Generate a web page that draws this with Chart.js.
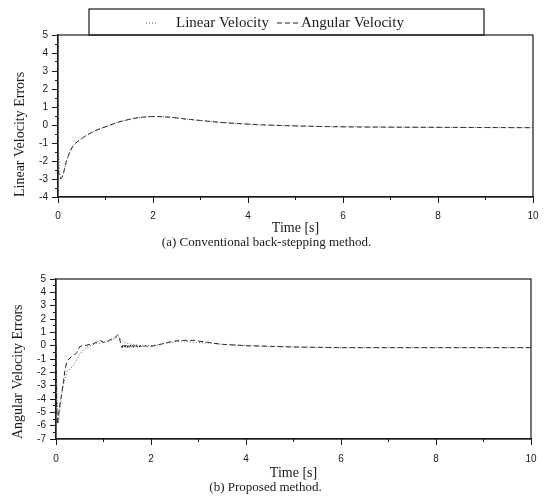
<!DOCTYPE html>
<html>
<head>
<meta charset="utf-8">
<script src="https://cdn.jsdelivr.net/npm/chart.js@4"></script>
<style>
  html, body { margin: 0; padding: 0; background: #fff; }
  .box { position: absolute; left: 0; width: 547px; height: 252px; }
</style>
</head>
<body>
<div class="box" style="top:0"><canvas id="chartA"></canvas></div>
<div class="box" style="top:252px"><canvas id="chartB"></canvas></div>
<script>
// series labels
const seriesNames = ['Linear Velocity', 'Angular Velocity'];

// (a) conventional back-stepping
const topTime    = [0, 0.03, 0.06, 0.1, 0.18, 0.25, 0.32, 0.4, 0.53, 0.65, 0.8, 1.0, 1.15, 1.3, 1.45, 1.6, 1.8, 2.0, 2.2, 2.4, 2.7, 3.0, 3.4, 3.8, 4.2, 4.6, 5.0, 5.5, 6, 7, 8, 9, 10];
const topLinear  = [-0.7, -2.4, -3.0, -2.8, -2.0, -1.5, -1.15, -0.95, -0.7, -0.5, -0.3, -0.1, 0.05, 0.18, 0.28, 0.37, 0.44, 0.47, 0.46, 0.42, 0.33, 0.25, 0.15, 0.08, 0.02, -0.02, -0.05, -0.08, -0.1, -0.12, -0.13, -0.14, -0.15];
const topAngular = [-2.5, -2.8, -3.0, -2.8, -2.0, -1.5, -1.15, -0.95, -0.7, -0.5, -0.3, -0.1, 0.05, 0.18, 0.28, 0.37, 0.44, 0.47, 0.46, 0.42, 0.33, 0.25, 0.15, 0.08, 0.02, -0.02, -0.05, -0.08, -0.1, -0.12, -0.13, -0.14, -0.15];

// (b) proposed method
const botLinTime = [0, 0.02, 0.05, 0.08, 0.12, 0.15, 0.19, 0.23, 0.3, 0.37, 0.44, 0.51, 0.58, 0.65, 0.72, 0.85, 1.0, 1.15, 1.3, 1.35, 1.45, 1.6, 1.8, 2.0, 2.2, 2.5, 2.7, 2.9, 3.2, 3.5, 4.0, 4.5, 5, 6, 7, 8, 9, 10];
const botLinear  = [0, -3.5, -5.8, -4.8, -3.8, -3.0, -2.5, -2.0, -1.7, -1.5, -1.0, -0.6, -0.3, -0.1, 0.0, 0.15, 0.25, 0.35, 0.7, 0.55, 0.2, 0.1, 0.0, 0.0, 0.1, 0.3, 0.35, 0.25, 0.2, 0.1, 0.0, -0.05, -0.1, -0.15, -0.15, -0.15, -0.15, -0.15];
const botAngTime = [0, 0.01, 0.03, 0.06, 0.09, 0.12, 0.16, 0.19, 0.23, 0.27, 0.32, 0.37, 0.44, 0.5, 0.6, 0.72, 0.82, 0.93, 1.0, 1.07, 1.14, 1.22, 1.3, 1.33,
                    1.37, 1.39, 1.41, 1.43, 1.45, 1.47, 1.49, 1.51, 1.53, 1.55, 1.57, 1.59, 1.61, 1.63, 1.65, 1.67, 1.69, 1.71, 1.73, 1.75, 1.77, 1.79, 1.81, 1.84, 1.88, 1.93,
                    2.0, 2.15, 2.3, 2.5, 2.7, 2.9, 3.2, 3.5, 4.0, 4.5, 5, 6, 7, 8, 9, 10];
const botAngular = [0, -4.3, -5.9, -5.0, -4.2, -3.6, -2.6, -1.8, -1.2, -1.0, -0.85, -0.75, -0.5, -0.05, 0.0, 0.1, 0.2, 0.4, 0.25, 0.3, 0.45, 0.55, 0.8, 0.7,
                    0.0, -0.15, 0.05, -0.15, 0.05, -0.15, 0.05, -0.14, 0.05, -0.14, 0.05, -0.13, 0.04, -0.13, 0.04, -0.12, 0.04, -0.12, 0.03, -0.11, 0.03, -0.1, 0.02, -0.08, 0.0, -0.07,
                    -0.05, 0.05, 0.2, 0.35, 0.4, 0.4, 0.25, 0.1, 0.0, -0.05, -0.1, -0.15, -0.15, -0.15, -0.15, -0.15];

// axis ticks
const xTicks = [0, 2, 4, 6, 8, 10];
const topYRange = [-4, 5];
const botYRange = [-7, 5];

const ink = '#1a1a1a';
const tickFont = { family: 'Liberation Sans', size: 10 };
const serif = 'Liberation Serif';

function pts(xs, ys) {
  return xs.map((x, i) => ({ x: x, y: ys[i] }));
}

// box around the plot area
const framePlugin = {
  id: 'frame',
  afterDraw(chart) {
    const a = chart.chartArea, ctx = chart.ctx;
    ctx.save();
    ctx.strokeStyle = ink;
    ctx.lineWidth = 1.2;
    ctx.strokeRect(a.left, a.top, a.right - a.left, a.bottom - a.top);
    ctx.restore();
  }
};

// boxed legend sitting on top of the first plot
const boxLegend = {
  id: 'boxLegend',
  afterDraw(chart) {
    const ctx = chart.ctx, a = chart.chartArea;
    const l = a.left + 31, r = a.right - 49, t = 9, b = a.top;
    const cy = (t + b) / 2 + 1;
    const starts = [l + 87, l + 212];
    const swatch = [[-30, -18], [-24, -3]];
    ctx.save();
    ctx.strokeStyle = ink;
    ctx.lineWidth = 1.2;
    ctx.strokeRect(l, t, r - l, b - t);
    ctx.font = '15px "Liberation Serif"';
    ctx.textBaseline = 'middle';
    ctx.fillStyle = ink;
    chart.data.datasets.forEach((ds, i) => {
      const x0 = starts[i];
      ctx.setLineDash(ds.borderDash);
      ctx.strokeStyle = ds.borderColor;
      ctx.lineWidth = 1;
      ctx.beginPath();
      ctx.moveTo(x0 + swatch[i][0], cy);
      ctx.lineTo(x0 + swatch[i][1], cy);
      ctx.stroke();
      ctx.setLineDash([]);
      ctx.fillText(ds.label, x0, cy);
    });
    ctx.restore();
  }
};

function makeScales(yRange, yTitle, leftW, xH, xPad, yTitlePad) {
  return {
    x: {
      type: 'linear', min: 0, max: 10,
      afterBuildTicks: s => { s.ticks = xTicks.map(v => ({ value: v })); },
      ticks: { font: tickFont, color: ink, padding: xPad, maxRotation: 0 },
      grid: { drawOnChartArea: false, tickLength: 6, tickColor: ink },
      border: { color: ink, width: 1.2 },
      title: { display: true, text: 'Time [s]', color: ink, font: { family: serif, size: 14, lineHeight: 1 }, padding: { top: 0, bottom: 1.5 } },
      afterFit: s => { s.height = xH; }
    },
    xMinor: {
      type: 'linear', position: 'bottom', min: 0, max: 10, weight: -1,
      ticks: { display: false, stepSize: 1 },
      grid: { drawOnChartArea: false, tickLength: 3, tickColor: ink },
      border: { display: false },
      afterFit: s => { s.height = 0; }
    },
    y: {
      type: 'linear', min: yRange[0], max: yRange[1],
      ticks: { stepSize: 1, autoSkip: false, font: tickFont, color: ink, padding: 4 },
      grid: { drawOnChartArea: false, tickLength: 6, tickColor: ink },
      border: { color: ink, width: 1.2 },
      title: { display: true, text: yTitle, align: 'start', color: ink, font: { family: serif, size: 14, lineHeight: 1 }, padding: { top: yTitlePad, bottom: 0 } },
      afterFit: s => { s.width = leftW; }
    },
    yMinor: {
      type: 'linear', position: 'left', min: yRange[0], max: yRange[1], weight: -1,
      ticks: { display: false, stepSize: 0.5 },
      grid: { drawOnChartArea: false, tickLength: 3, tickColor: ink },
      border: { display: false },
      afterFit: s => { s.width = 0; }
    }
  };
}

function makeSets(linXs, linYs, angXs, angYs, smooth) {
  return [
    {
      label: seriesNames[0], data: pts(linXs, linYs),
      borderColor: '#555', borderWidth: 1, borderDash: [1, 2],
      pointRadius: 0,
      cubicInterpolationMode: smooth ? 'monotone' : 'default', fill: false
    },
    {
      label: seriesNames[1], data: pts(angXs, angYs),
      borderColor: '#222', borderWidth: 1, borderDash: [5, 3],
      pointRadius: 0,
      cubicInterpolationMode: smooth ? 'monotone' : 'default', fill: false
    }
  ];
}

const ctxA = document.getElementById('chartA').getContext('2d');
const ctxB = document.getElementById('chartB').getContext('2d');

new Chart(ctxA, {
  type: 'line',
  data: { datasets: makeSets(topTime, topLinear, topTime, topAngular, true) },
  options: {
    responsive: true, maintainAspectRatio: false, animation: false,
    layout: { padding: { left: 0, right: 14, top: 35, bottom: 2.5 } },
    scales: makeScales(topYRange, 'Linear Velocity Errors', 58, 39.5, 7, 13),
    plugins: {
      legend: { display: false },
      title: {
        display: true, position: 'bottom', text: '(a) Conventional back-stepping method.',
        color: ink, font: { family: serif, size: 13, weight: 'normal', lineHeight: 1 }, padding: 0
      },
      tooltip: { enabled: false }
    }
  },
  plugins: [framePlugin, boxLegend]
});

new Chart(ctxB, {
  type: 'line',
  data: { datasets: makeSets(botLinTime, botLinear, botAngTime, botAngular, false) },
  options: {
    responsive: true, maintainAspectRatio: false, animation: false,
    layout: { padding: { left: 0, right: 16, top: 27, bottom: 9.5 } },
    scales: makeScales(botYRange, 'Angular Velocity Errors', 56, 42.5, 8, 11),
    plugins: {
      legend: { display: false },
      title: {
        display: true, position: 'bottom', text: '(b) Proposed method.',
        color: ink, font: { family: serif, size: 13, weight: 'normal', lineHeight: 1 }, padding: 0
      },
      tooltip: { enabled: false }
    }
  },
  plugins: [framePlugin]
});
</script>
</body>
</html>
